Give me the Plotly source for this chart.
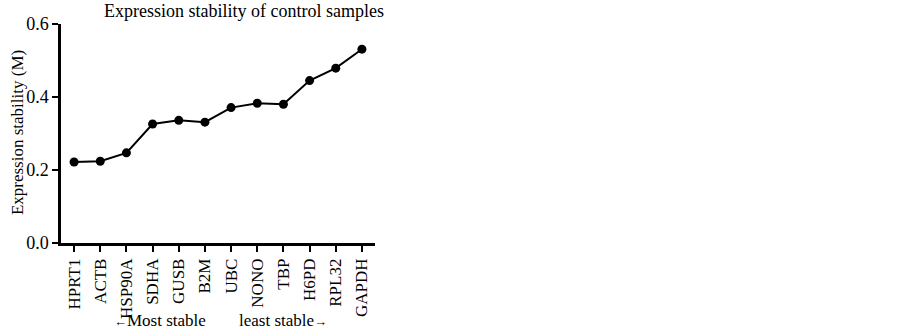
import plotly.graph_objects as go

genes = ["HPRT1", "ACTB", "HSP90A", "SDHA", "GUSB", "B2M", "UBC", "NONO", "TBP", "H6PD", "RPL32", "GAPDH"]
m_values = [0.222, 0.224, 0.247, 0.326, 0.336, 0.331, 0.371, 0.383, 0.380, 0.445, 0.479, 0.531]
y_ticks = [0.0, 0.2, 0.4, 0.6]

FONT = "Liberation Serif, Times New Roman, serif"

fig = go.Figure()
fig.add_trace(go.Scatter(
    x=genes, y=m_values, mode="lines+markers",
    line=dict(color="black", width=2),
    marker=dict(color="black", size=9),
    showlegend=False,
))

fig.update_layout(
    width=903, height=331,
    margin=dict(l=61, r=528, t=24, b=88),
    paper_bgcolor="white", plot_bgcolor="white",
    font=dict(family=FONT, color="black", size=17),
    xaxis=dict(
        type="category", range=[-0.5, 11.5], automargin=False,
        showline=True, linecolor="black", linewidth=2.5,
        ticks="outside", ticklen=6, tickwidth=2, tickcolor="black",
        tickangle=-90, tickfont=dict(size=17, family=FONT),
        showgrid=False, zeroline=False,
    ),
    yaxis=dict(
        range=[0, 0.6], tickvals=y_ticks, tickformat=".1f", automargin=False,
        showline=True, linecolor="black", linewidth=2.5,
        ticks="outside", ticklen=6, tickwidth=2, tickcolor="black",
        tickfont=dict(size=18, family=FONT),
        showgrid=False, zeroline=False,
    ),
    annotations=[
        dict(text="Expression stability of control samples", xref="paper", yref="paper",
             x=0.583, y=1.059, xanchor="center", yanchor="middle", showarrow=False,
             font=dict(size=18, family=FONT)),
        dict(text="Expression stability (M)", xref="paper", yref="paper",
             x=-0.14, y=0.502, xanchor="center", yanchor="middle", textangle=-90,
             showarrow=False, font=dict(size=17, family=FONT)),
        dict(text="<span style='font-size:13px'>←</span>Most stable", xref="paper", yref="paper",
             x=0.315, y=-0.352, xanchor="center", yanchor="middle", showarrow=False,
             font=dict(size=17, family=FONT)),
        dict(text="least stable<span style='font-size:13px'>→</span>", xref="paper", yref="paper",
             x=0.707, y=-0.352, xanchor="center", yanchor="middle", showarrow=False,
             font=dict(size=17, family=FONT)),
    ],
)

fig.write_html("out.html", config={"displayModeBar": False},
               post_script="document.body.style.margin='0';document.body.style.overflow='hidden';")
